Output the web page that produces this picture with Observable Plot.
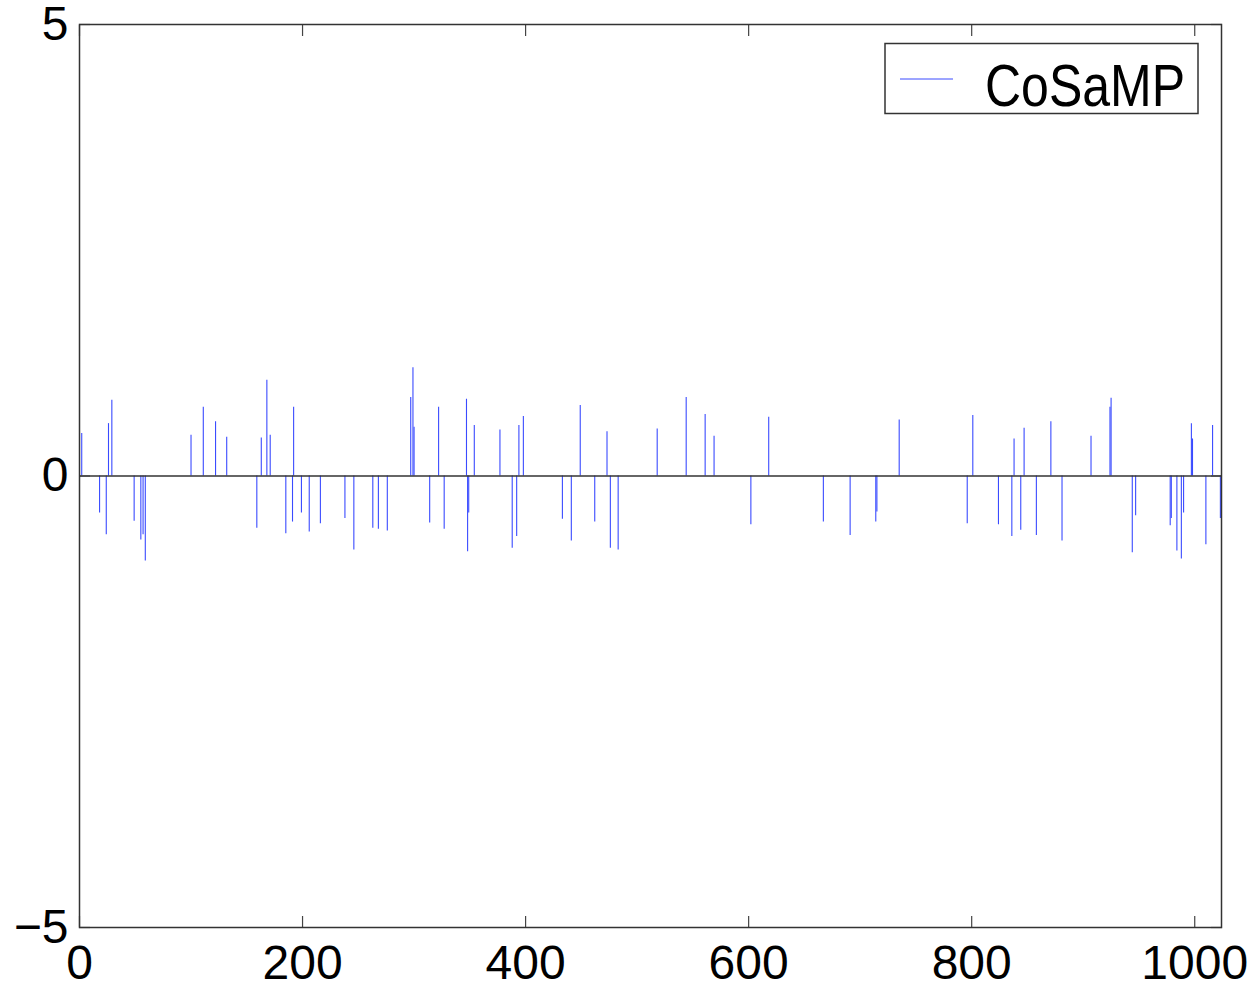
<!DOCTYPE html>
<html>
<head>
<meta charset="utf-8">
<script src="https://cdn.jsdelivr.net/npm/d3@7"></script>
<script src="https://cdn.jsdelivr.net/npm/@observablehq/plot@0.6"></script>
<style>
  html, body { margin: 0; padding: 0; background: #fff; }
  #chart svg { display: block; }
</style>
</head>
<body>
<div id="chart"></div>
<script>
// Sparse signal recovered by CoSaMP: nonzero indices and their values
const spikeIndex = [2, 18, 24, 26, 29, 49, 55, 57, 59, 100, 111, 122, 132, 159, 163, 168, 171, 185, 191, 192,
  199, 206, 216, 238, 246, 263, 268, 276, 297, 299, 300, 314, 322, 327, 347, 348, 349, 354, 377, 388,
  392, 394, 398, 433, 441, 449, 462, 473, 476, 483, 518, 544, 561, 569, 602, 618, 667, 691, 714, 715,
  735, 796, 801, 824, 836, 838, 844, 847, 858, 871, 881, 907, 924, 925, 944, 947, 978, 979, 984, 988,
  990, 997, 998, 1010, 1016, 1023];
const spikeValue = [0.47, -0.41, -0.65, 0.58, 0.84, -0.50, -0.71, -0.65, -0.94, 0.45, 0.76, 0.60, 0.43, -0.58, 0.42, 1.06, 0.45, -0.64, -0.51, 0.76,
  -0.41, -0.62, -0.53, -0.47, -0.82, -0.58, -0.59, -0.61, 0.87, 1.20, 0.54, -0.52, 0.76, -0.59, 0.85, -0.84, -0.41, 0.56, 0.51, -0.80,
  -0.67, 0.56, 0.66, -0.48, -0.72, 0.78, -0.51, 0.49, -0.80, -0.82, 0.52, 0.87, 0.68, 0.44, -0.54, 0.65, -0.51, -0.66, -0.51, -0.40,
  0.62, -0.53, 0.67, -0.54, -0.67, 0.41, -0.60, 0.53, -0.66, 0.60, -0.72, 0.44, 0.76, 0.86, -0.85, -0.44, -0.55, -0.47, -0.83, -0.92,
  -0.41, 0.58, 0.41, -0.76, 0.56, -0.47];
const xTicks = [0, 200, 400, 600, 800, 1000];
const yTicks = [-5, 0, 5];
const xDomain = [0, 1024];
const yDomain = [-5, 5];
const seriesName = "CoSaMP";

const data = spikeIndex.map((i, k) => ({i, v: spikeValue[k]}));
const blue = "#3a4bff";
const fontFamily = "'Liberation Sans', Arial, Helvetica, sans-serif";
const fmt = d => d < 0 ? "\u2212" + Math.abs(d) : String(d);
const blank = () => "";

const W = 1258, H = 989;
const mL = 79, mT = 24, mR = 37, mB = 62;

const chart = Plot.plot({
  width: W,
  height: H,
  marginLeft: mL,
  marginTop: mT,
  marginRight: mR,
  marginBottom: mB,
  style: {fontFamily, color: "#000", background: "#fff", overflow: "visible"},
  x: {domain: xDomain, label: null},
  y: {domain: yDomain, label: null},
  marks: [
    Plot.ruleX(data, {x: "i", y1: 0, y2: "v", stroke: blue, strokeWidth: 1.1}),
    Plot.ruleY([0], {stroke: "#333", strokeWidth: 1.3}),
    // tick labels
    Plot.axisX({anchor: "bottom", ticks: xTicks, tickSize: 0, tickPadding: 17, fontSize: 48, tickFormat: fmt, label: null}),
    Plot.axisY({anchor: "left", ticks: yTicks, tickSize: 0, tickPadding: 11, fontSize: 48, tickFormat: fmt, label: null}),
    // inward ticks on all sides
    Plot.axisX({anchor: "bottom", ticks: xTicks, tickSize: -11, tickFormat: blank, stroke: "#444", strokeWidth: 1.2, label: null}),
    Plot.axisX({anchor: "top", ticks: xTicks, tickSize: -11, tickFormat: blank, stroke: "#444", strokeWidth: 1.2, label: null}),
    Plot.axisY({anchor: "left", ticks: yTicks, tickSize: -11, tickFormat: blank, stroke: "#444", strokeWidth: 1.2, label: null}),
    Plot.axisY({anchor: "right", ticks: yTicks, tickSize: -11, tickFormat: blank, stroke: "#444", strokeWidth: 1.2, label: null}),
    Plot.frame({stroke: "#333", strokeWidth: 1.5})
  ]
});

document.getElementById("chart").appendChild(chart);

// Legend box (top-right, inside plot area)
const svg = d3.select(chart);
const lg = svg.append("g").attr("class", "legend").attr("text-anchor", "start");
lg.append("rect")
  .attr("x", 885).attr("y", 43.5).attr("width", 313).attr("height", 70)
  .attr("fill", "#fff").attr("stroke", "#333").attr("stroke-width", 1.5);
lg.append("line")
  .attr("x1", 900).attr("x2", 953).attr("y1", 79).attr("y2", 79)
  .attr("stroke", blue).attr("stroke-width", 1);
lg.append("text")
  .attr("transform", "translate(985,106) scale(1,1.2)")
  .attr("text-anchor", "start")
  .attr("font-family", fontFamily).attr("font-size", 50).attr("fill", "#000")
  .text(seriesName);
</script>
</body>
</html>
